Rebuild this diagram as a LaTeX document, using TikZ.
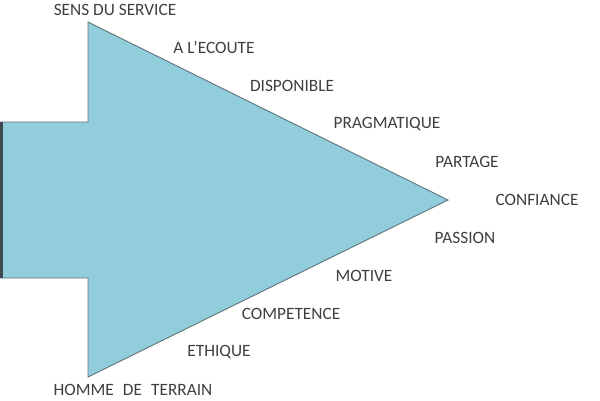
\documentclass[tikz,border=0pt]{standalone}
\usepackage{fontspec}
\setmainfont{Carlito}
\definecolor{arrowfill}{HTML}{92CDDC}
\definecolor{arrowedge}{HTML}{5F7379}
\definecolor{leftedge}{HTML}{3E4A4E}
\definecolor{labelgray}{HTML}{3F3F3F}
\tikzset{
  lbl/.style={text=labelgray, font=\fontsize{17.3}{17.3}\selectfont, inner sep=0pt, anchor=center},
  arrowshape/.style={fill=arrowfill, draw=arrowedge, line width=0.9pt, line join=miter}
}
\begin{document}
\begin{tikzpicture}[x=1pt,y=-1pt]
\useasboundingbox (0,0) rectangle (600,400);
\draw[arrowshape] (0,122) -- (88,122) -- (88,22) -- (448,200) -- (88,377) -- (88,278) -- (0,278) -- cycle;
\draw[leftedge, line width=2.5pt] (1.25,122) -- (1.25,278);
\node[lbl] (sens) at (115,10) {SENS DU SERVICE};
\node[lbl] (ecoute) at (214,47) {A L'ECOUTE};
\node[lbl] (dispo) at (292,86) {DISPONIBLE};
\node[lbl] (pragma) at (387,124) {PRAGMATIQUE};
\node[lbl] (partage) at (467,162) {PARTAGE};
\node[lbl] (confiance) at (537,200) {CONFIANCE};
\node[lbl] (passion) at (465,238) {PASSION};
\node[lbl] (motive) at (364,276) {MOTIVE};
\node[lbl] (competence) at (291,314) {COMPETENCE};
\node[lbl] (ethique) at (219,352) {ETHIQUE};
\node[lbl] (homme) at (133,390) {HOMME\hspace{0.3em} DE\hspace{0.3em} TERRAIN};
\end{tikzpicture}
\end{document}
